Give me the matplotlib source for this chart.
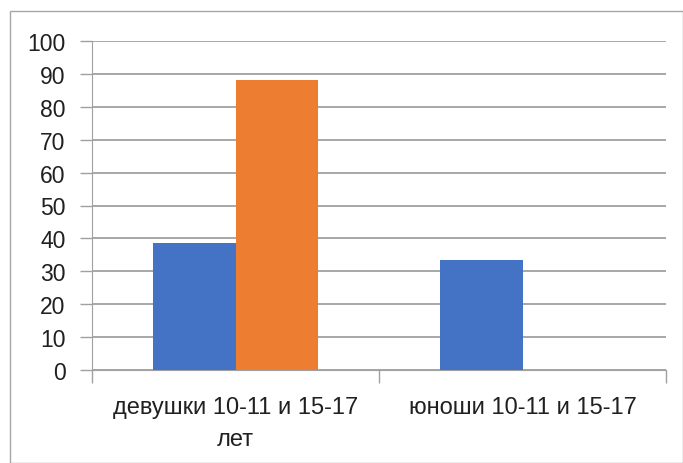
import matplotlib
matplotlib.use("Agg")
import matplotlib.pyplot as plt
from matplotlib.patches import Rectangle
import numpy as np

categories = ["девушки 10-11 и 15-17\nлет", "юноши 10-11 и 15-17"]
series_blue = [38.5, 33.3]
series_orange = [88.0, 0.0]
yticks = [0, 10, 20, 30, 40, 50, 60, 70, 80, 90, 100]

plt.rcParams['font.family'] = ['Liberation Sans', 'DejaVu Sans']

W, H = 683, 464
fig = plt.figure(figsize=(W / 100, H / 100), dpi=100)
fig.patch.set_facecolor('white')

# chart-area border
fig.add_artist(Rectangle((10 / W, 0), (W - 10) / W, (H - 12) / H,
                         transform=fig.transFigure, fill=False,
                         edgecolor='#a6a6a6', linewidth=1.0))

ax = fig.add_axes([92 / W, (H - 371) / H, (666 - 92) / W, (371 - 42) / H])

x = np.arange(len(categories))
bw = 0.286
ax.bar(x - bw / 2, series_blue, bw, color='#4472C4', zorder=3)
ax.bar(x + bw / 2, series_orange, bw, color='#ED7D31', zorder=3)

ax.set_xlim(-0.5, 1.5)
ax.set_ylim(0, 100)
ax.set_yticks(yticks)
ax.set_yticklabels([str(v) for v in yticks], fontsize=16.5, color='#202020')
ax.yaxis.grid(True, color='#a0a0a0', linewidth=1.3, zorder=0)
ax.tick_params(axis='y', length=9, color='#a0a0a0', width=1.0, pad=10)

# category axis: ticks at boundaries, labels at centers
ax.set_xticks([-0.5, 0.5, 1.5])
ax.set_xticklabels([])
ax.tick_params(axis='x', length=9, color='#a0a0a0', width=1.0)
ax.set_xticks(x, minor=True)
ax.set_xticklabels(categories, minor=True, fontsize=17, color='#202020',
                   linespacing=1.55)
ax.tick_params(axis='x', which='minor', length=0, pad=19)

for s in ['top', 'right']:
    ax.spines[s].set_visible(False)
ax.spines['left'].set_color('#a0a0a0')
ax.spines['bottom'].set_color('#a0a0a0')
ax.set_axisbelow(True)

fig.savefig("out.png", dpi=100)
